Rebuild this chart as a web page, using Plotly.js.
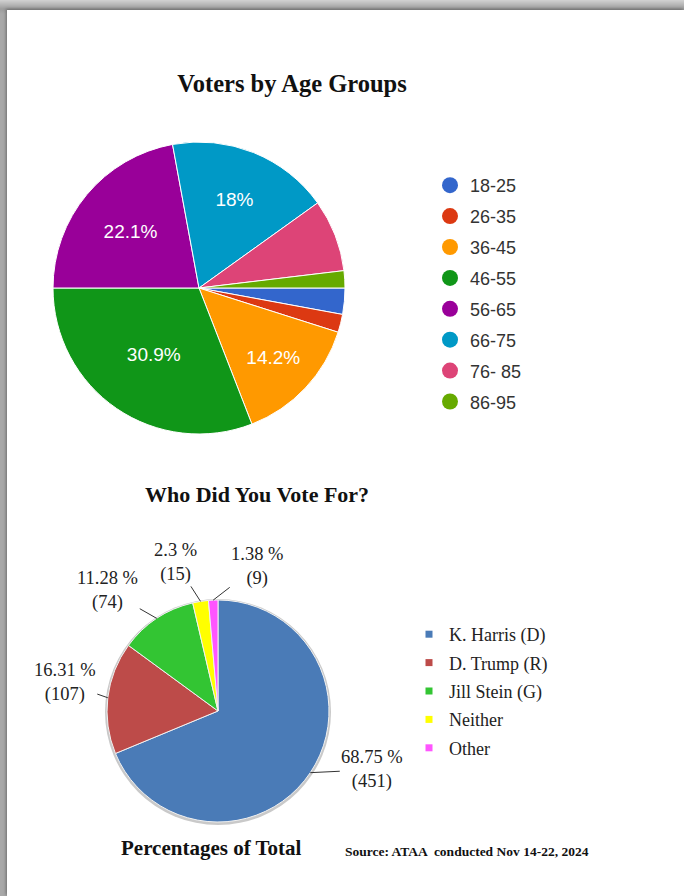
<!DOCTYPE html>
<html><head><meta charset="utf-8">
<script src="https://cdn.plot.ly/plotly-3.0.1.min.js"></script>
<style>
html,body{margin:0;padding:0;width:684px;height:896px;overflow:hidden;}
body{background:linear-gradient(to bottom,#d2d2d2 0px,#9c9c9c 9px,#a8a8a8 14px,#a8a8a8 100%);}
#chart{position:absolute;left:7px;top:10px;width:677px;height:886px;background:#fff;box-shadow:-1px -1px 3px rgba(0,0,0,0.35);}
</style></head><body><div id="chart"></div>
<script>
// ---- Data: Voters by Age Groups ----
const ageGroups = ['18-25','26-35','36-45','46-55','56-65','66-75','76- 85','86-95'];
const agePercents = [2.9, 2.0, 14.2, 30.9, 22.1, 18.0, 8.0, 1.9];
const ageShowLabel = [false, false, true, true, true, true, false, false];
const ageColors = ['#3366cc','#dc3912','#ff9900','#109618','#990099','#0099c6','#dd4477','#66aa00'];

// ---- Data: Who Did You Vote For? ----
const candidates = ['K. Harris (D)','D. Trump (R)','Jill Stein (G)','Neither','Other'];
const voteCounts = [451, 107, 74, 15, 9];
const votePercents = ['68.75','16.31','11.28','2.3','1.38'];
const voteColors = ['#4a7bb7','#bd4b49','#33c533','#ffff00','#ff55ff'];

// ---- Text ----
const titleTop = 'Voters by Age Groups';
const titleBottom = 'Who Did You Vote For?';
const footerTitle = 'Percentages of Total';
const sourceText = 'Source: ATAA  conducted Nov 14-22, 2024';

// ---- Layout geometry (pixels inside the chart div) ----
const W = 677, H = 886;
const px = v => v / W;
const py = v => 1 - v / H;
const topPie = {cx: 192, cy: 278, r: 146};
const botPie = {cx: 211, cy: 701, r: 111};
// label offsets (pixels) from slice edge midpoint, for the outside labels
const labelOffsets = [[62, -3], [-43, -15], [-49, -28], [-25, -39], [44, -34]];

const serif = '"Liberation Serif", "Times New Roman", serif';
const sans = '"Liberation Sans", Arial, sans-serif';

const traces = [];

traces.push({
  type: 'pie',
  labels: ageGroups,
  values: agePercents,
  sort: false,
  direction: 'clockwise',
  rotation: 90,
  marker: {colors: ageColors, line: {color: '#ffffff', width: 1}},
  texttemplate: ageShowLabel.map(s => s ? '%{value}%' : ''),
  textposition: 'inside',
  insidetextorientation: 'horizontal',
  textfont: {family: sans, size: 19, color: '#ffffff'},
  domain: {x: [px(topPie.cx - topPie.r), px(topPie.cx + topPie.r)],
           y: [py(topPie.cy + topPie.r), py(topPie.cy - topPie.r)]},
  showlegend: false,
  hoverinfo: 'label+percent'
});

traces.push({
  type: 'pie',
  labels: candidates,
  values: voteCounts,
  sort: false,
  direction: 'clockwise',
  rotation: 0,
  marker: {colors: voteColors, line: {color: '#f2f2f2', width: 1}},
  textinfo: 'none',
  domain: {x: [px(botPie.cx - botPie.r), px(botPie.cx + botPie.r)],
           y: [py(botPie.cy + botPie.r), py(botPie.cy - botPie.r)]},
  showlegend: false,
  hoverinfo: 'label+value'
});

// legend entries (circle markers for ages, small squares for candidates)
ageGroups.forEach((g, i) => traces.push({
  type: 'scatter', x: [null], y: [null], mode: 'markers', name: g,
  marker: {color: ageColors[i], size: 16, symbol: 'circle'},
  legend: 'legend', legendgroup: 'a' + i, hoverinfo: 'skip'
}));
candidates.forEach((c, i) => traces.push({
  type: 'scatter', x: [null], y: [null], mode: 'markers', name: c,
  marker: {color: voteColors[i], size: 7, symbol: 'square'},
  legend: 'legend2', legendgroup: 'c' + i, hoverinfo: 'skip'
}));

// outside labels of the vote pie, anchored at each slice's mid-angle on the rim
const total = voteCounts.reduce((a, b) => a + b, 0);
let cum = 0;
const sliceLabels = voteCounts.map((v, i) => {
  const mid = (cum + v / 2) / total * 2 * Math.PI;
  cum += v;
  const ex = botPie.cx + botPie.r * Math.sin(mid);
  const ey = botPie.cy - botPie.r * Math.cos(mid);
  return {
    text: votePercents[i] + ' %<br>(' + v + ')',
    x: px(ex), y: py(ey), xref: 'paper', yref: 'paper',
    showarrow: true, arrowhead: 0, arrowwidth: 1, arrowcolor: '#333333',
    standoff: 0, startstandoff: 0,
    ax: labelOffsets[i][0], ay: labelOffsets[i][1],
    font: {family: serif, size: 18.5, color: '#222222'}, align: 'center'
  };
});

const layout = {
  width: W, height: H,
  margin: {l: 0, r: 0, t: 0, b: 0},
  paper_bgcolor: '#ffffff',
  plot_bgcolor: 'rgba(0,0,0,0)',
  xaxis: {visible: false},
  yaxis: {visible: false},
  title: {
    text: '<b>' + titleTop + '</b>',
    x: px(285), y: py(73), xanchor: 'center', yanchor: 'middle',
    xref: 'paper', yref: 'paper',
    font: {family: serif, size: 24.5, color: '#111111'}
  },
  legend: {
    x: px(463 - 40), y: py(157), xanchor: 'left', yanchor: 'top',
    traceorder: 'grouped', tracegroupgap: 4.5,
    font: {family: sans, size: 18, color: '#333333'},
    bgcolor: 'rgba(0,0,0,0)'
  },
  legend2: {
    x: px(442 - 40), y: py(606), xanchor: 'left', yanchor: 'top',
    traceorder: 'grouped', tracegroupgap: 2,
    font: {family: serif, size: 18, color: '#222222'},
    bgcolor: 'rgba(0,0,0,0)'
  },
  shapes: [{
    type: 'circle', xref: 'paper', yref: 'paper', layer: 'below',
    x0: px(botPie.cx - botPie.r - 2), x1: px(botPie.cx + botPie.r + 2),
    y0: py(botPie.cy + botPie.r + 3), y1: py(botPie.cy - botPie.r - 1),
    fillcolor: '#c9c9c9', line: {width: 0}
  }],
  annotations: [
    {text: '<b>' + titleBottom + '</b>', x: px(250), y: py(485), xref: 'paper', yref: 'paper',
     xanchor: 'center', yanchor: 'middle', showarrow: false,
     font: {family: serif, size: 22, color: '#111111'}},
    {text: '<b>' + footerTitle + '</b>', x: px(204), y: py(838), xref: 'paper', yref: 'paper',
     xanchor: 'center', yanchor: 'middle', showarrow: false,
     font: {family: serif, size: 21, color: '#111111'}},
    {text: '<b>' + sourceText + '</b>', x: px(460), y: py(841), xref: 'paper', yref: 'paper',
     xanchor: 'center', yanchor: 'middle', showarrow: false,
     font: {family: serif, size: 13.5, color: '#111111'}}
  ].concat(sliceLabels)
};

Plotly.newPlot('chart', traces, layout, {displayModeBar: false, staticPlot: true});
</script></body></html>
